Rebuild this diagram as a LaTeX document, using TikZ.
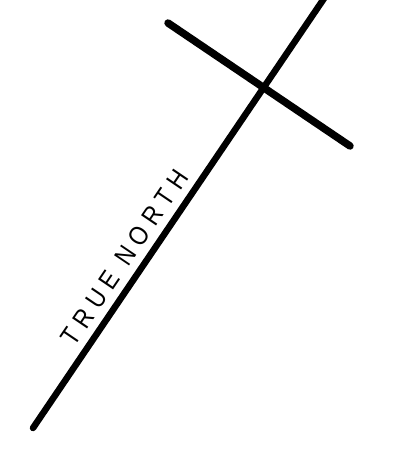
\documentclass[tikz,border=0pt]{standalone}
\usepackage{fontspec}
\newfontfamily\lblfont[LetterSpace=30,Scale=2.3]{Liberation Sans}
\begin{document}
\begin{tikzpicture}[x=1pt,y=-1pt,
  mainline/.style={line width=6.5pt,line cap=round},
  crossline/.style={line width=7.5pt,line cap=round},
  lbl/.style={font=\lblfont,inner sep=0pt,yscale=1.15}]
\useasboundingbox (0,0) rectangle (416,468);
\clip (0,0) rectangle (416,468);
\coordinate (a) at (33,428);
\coordinate (b) at (325,-3);
\coordinate (c1) at (168,23);
\coordinate (c2) at (350,146);
\draw[mainline] (a) -- (b);
\draw[crossline] (c1) -- (c2);
\path (a) -- (b) node[lbl,pos=0.37,sloped,above=9pt] (t) {TRUE NORTH};
\end{tikzpicture}
\end{document}
